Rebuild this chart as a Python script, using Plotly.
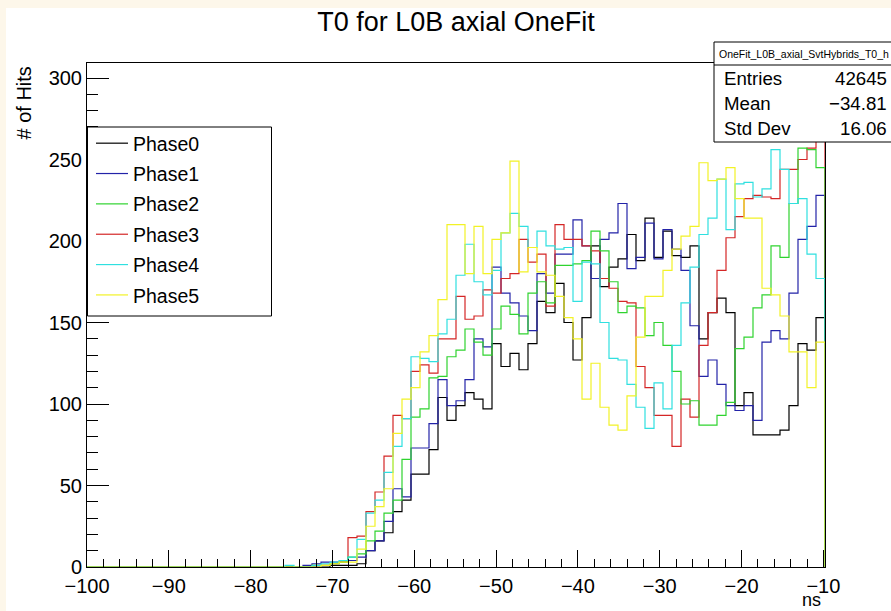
import numpy as np
import plotly.graph_objects as go

# Histogram binning: 82 bins of 1.1 ns starting at -100 ns
bin_edges = np.linspace(-100.0, -9.8, 83)

phases = ["Phase0", "Phase1", "Phase2", "Phase3", "Phase4", "Phase5"]
colors = {
    "Phase0": "#000000",
    "Phase1": "#2323a8",
    "Phase2": "#2fd32f",
    "Phase3": "#d42626",
    "Phase4": "#2fe0e0",
    "Phase5": "#f2f226",
}

# Counts per bin (bins 0..21 are empty)
empty = [0] * 22
counts = {
    "Phase0": empty + [
        0, 0, 0, 0, 0, 1, 1,
        1, 2, 10, 16, 21, 34, 41, 57, 57, 72,
        104, 90, 99, 107, 103, 97, 137, 123, 131, 121,
        137, 163, 156, 174, 150, 127, 153, 197, 172, 184,
        189, 204, 188, 214, 190, 206, 191, 190, 197, 140,
        156, 165, 156, 99, 107, 81, 81, 81, 84, 99,
        137, 133, 153],
    "Phase1": empty + [
        0, 0, 1, 2, 3, 3, 3,
        4, 6, 10, 16, 28, 48, 43, 73, 73, 88,
        115, 99, 102, 115, 140, 135, 184, 168, 162, 154,
        145, 180, 168, 192, 192, 213, 197, 177, 201, 205,
        223, 183, 190, 211, 189, 207, 195, 182, 148, 117,
        127, 112, 99, 96, 99, 90, 138, 145, 140, 168,
        201, 209, 228],
    "Phase2": empty + [
        0, 0, 0, 1, 1, 2, 3,
        6, 8, 16, 22, 33, 41, 66, 92, 97, 116,
        117, 129, 133, 146, 138, 130, 146, 160, 155, 143,
        168, 175, 162, 185, 185, 186, 188, 206, 194, 175,
        156, 160, 159, 142, 150, 136, 120, 100, 102, 87,
        87, 93, 101, 134, 141, 159, 167, 197, 190, 223,
        257, 256, 245],
    "Phase3": empty + [
        0, 0, 0, 1, 1, 2, 3,
        18, 19, 34, 46, 68, 93, 91, 120, 124, 119,
        140, 140, 166, 152, 154, 170, 168, 177, 180, 201,
        187, 192, 160, 210, 201, 201, 197, 194, 177, 171,
        163, 162, 123, 110, 93, 93, 74, 103, 92, 136,
        156, 182, 202, 215, 226, 228, 227, 226, 244, 244,
        250, 257, 272],
    "Phase4": empty + [
        1, 0, 0, 1, 2, 3, 4,
        6, 17, 33, 41, 58, 74, 91, 129, 128, 126,
        143, 152, 179, 198, 175, 167, 182, 205, 217, 209,
        196, 206, 197, 195, 196, 163, 187, 186, 150, 128,
        127, 112, 98, 85, 113, 97, 136, 162, 184, 204,
        214, 238, 207, 235, 236, 227, 232, 256, 244, 223,
        226, 192, 177],
    "Phase5": empty + [
        0, 0, 0, 0, 1, 2, 3,
        3, 11, 25, 37, 48, 82, 103, 110, 132, 142,
        164, 210, 210, 180, 209, 180, 201, 205, 249, 181,
        196, 181, 179, 166, 153, 140, 103, 125, 98, 87,
        84, 105, 141, 166, 166, 182, 195, 203, 209, 248,
        237, 238, 245, 226, 214, 214, 171, 167, 154, 132,
        132, 110, 138],
}

stats_name = "OneFit_L0B_axial_SvtHybrids_T0_h"
stats_rows = [("Entries", "42645"), ("Mean", "\u221234.81"), ("Std Dev", "16.06")]

FONT = "Liberation Sans, Arial, Helvetica, sans-serif"
W, H = 891, 611
ML, MR, MT, MB = 87, 66, 63, 44
PW, PH = W - ML - MR, H - MT - MB


def px_x(p):
    return (p - ML) / PW


def px_y(p):
    return (H - MB - p) / PH


fig = go.Figure()

# Stacking order: red is drawn beneath green
draw_order = ["Phase0", "Phase1", "Phase3", "Phase2", "Phase4", "Phase5"]
for name in draw_order:
    c = counts[name]
    xs = [bin_edges[0]] + list(bin_edges[:-1]) + [bin_edges[-1]]
    ys = [0] + list(c) + [0]
    fig.add_trace(go.Scatter(
        x=xs, y=ys, mode="lines", name=name,
        line=dict(color=colors[name], width=1.2, shape="hv"),
        legendgroup=name, legendrank=phases.index(name) + 1,
        hoverinfo="skip",
    ))

shapes = [
    # page background inset
    dict(type="rect", xref="paper", yref="paper", layer="below",
         x0=px_x(6), x1=px_x(W + 20), y0=px_y(H + 20), y1=px_y(8),
         fillcolor="white", line=dict(width=0)),
    # legend frame
    dict(type="rect", xref="paper", yref="paper", layer="above",
         x0=px_x(87.5), x1=px_x(271.5), y0=px_y(316), y1=px_y(127),
         fillcolor="white", line=dict(color="black", width=1)),
    # statistics box
    dict(type="rect", xref="paper", yref="paper", layer="above",
         x0=px_x(714), x1=px_x(W + 20), y0=px_y(142), y1=px_y(42),
         fillcolor="white", line=dict(color="black", width=1)),
    dict(type="line", xref="paper", yref="paper", layer="above",
         x0=px_x(714), x1=px_x(W + 20), y0=px_y(65), y1=px_y(65),
         line=dict(color="black", width=1)),
]

annotations = [
    dict(text=stats_name, xref="paper", yref="paper", x=px_x(717), y=px_y(53.5),
         xanchor="left", yanchor="middle", showarrow=False,
         font=dict(family=FONT, size=10.5, color="black")),
    dict(text="# of Hits", xref="paper", yref="paper", x=px_x(23), y=px_y(65),
         xanchor="center", yanchor="top", textangle=-90, showarrow=False,
         font=dict(family=FONT, size=20, color="black")),
    dict(text="ns", xref="paper", yref="paper", x=px_x(823), y=px_y(612),
         xanchor="right", yanchor="bottom", showarrow=False,
         font=dict(family=FONT, size=18, color="black")),
]
row_y = [78, 103, 128]
for (label, value), yy in zip(stats_rows, row_y):
    annotations.append(dict(text=label, xref="paper", yref="paper", x=px_x(722), y=px_y(yy),
                            xanchor="left", yanchor="middle", showarrow=False,
                            font=dict(family=FONT, size=18.7, color="black")))
    annotations.append(dict(text=value, xref="paper", yref="paper", x=px_x(889), y=px_y(yy),
                            xanchor="right", yanchor="middle", showarrow=False,
                            font=dict(family=FONT, size=18.7, color="black")))

fig.update_layout(
    width=W, height=H,
    margin=dict(l=ML, r=MR, t=MT, b=MB, pad=0),
    paper_bgcolor="#fdf7ea", plot_bgcolor="white",
    font=dict(family=FONT, size=20, color="black"),
    title=dict(text="T0 for L0B axial OneFit", x=0.5, xref="paper", xanchor="center",
               y=1 - 22 / H, yanchor="middle",
               font=dict(family=FONT, size=27, color="black")),
    showlegend=True,
    legend=dict(x=px_x(91), y=px_y(124), xanchor="left", yanchor="top",
                bgcolor="rgba(0,0,0,0)", borderwidth=0, tracegroupgap=2,
                font=dict(family=FONT, size=19.5, color="black"),
                itemwidth=32),
    shapes=shapes, annotations=annotations,
)

fig.update_xaxes(
    range=[-100, -9.8], tick0=-100, dtick=10, ticks="inside", ticklen=17,
    tickcolor="black", tickwidth=1, showline=True, linecolor="black", linewidth=1,
    mirror=True, showgrid=False, zeroline=False, ticklabelstandoff=1,
    tickfont=dict(family=FONT, size=20, color="black"),
    minor=dict(dtick=2, ticks="inside", ticklen=8, tickcolor="black", tickwidth=1, showgrid=False),
)
fig.update_yaxes(
    range=[0, 309.2], tick0=0, dtick=50, ticks="inside", ticklen=22,
    tickcolor="black", tickwidth=1, showline=True, linecolor="black", linewidth=1,
    mirror=True, showgrid=False, zeroline=False,
    tickfont=dict(family=FONT, size=20, color="black"),
    minor=dict(dtick=10, ticks="inside", ticklen=11, tickcolor="black", tickwidth=1, showgrid=False),
)

fig.write_html("out.html")
